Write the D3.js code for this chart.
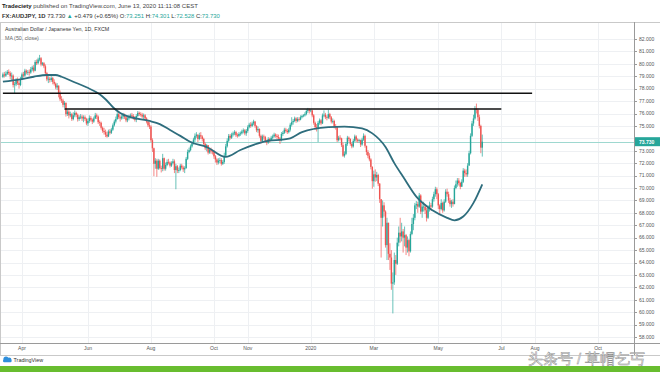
<!DOCTYPE html>
<html>
<head>
<meta charset="utf-8">
<script src="https://cdn.jsdelivr.net/npm/d3@7"></script>
<style>
  body { margin: 0; background: #fff; }
  svg { display: block; }
  text { font-family: "Liberation Sans", Arial, sans-serif; }
</style>
</head>
<body>
<svg width="660" height="372"></svg>
<script>
// FX:AUDJPY daily, FXCM, 13 Mar 2019 .. 12 Jun 2020 (one value per weekday, one line per month)
var startDate = '2019-03-13';
var firstOpen = 78.95;

var closes = [
  79.15,79.05,79.20,79.35,79.25,79.00,79.05,78.30,78.35,78.70,78.45,78.30,78.75,
  79.15,79.05,79.45,79.30,79.35,79.30,79.55,79.70,79.45,80.15,80.05,80.35,80.45,79.95,80.05,79.80,79.25,78.75,78.80,78.70,78.85,78.55,
  78.40,78.10,78.25,77.65,77.15,77.05,76.70,76.85,75.95,76.15,75.85,75.95,75.55,75.85,76.05,75.90,75.55,75.70,75.75,75.60,75.70,75.55,75.20,
  75.40,75.65,75.50,75.35,75.60,75.85,75.75,75.30,75.25,74.85,74.60,74.50,74.30,74.15,74.55,74.45,74.70,75.05,75.35,75.55,
  75.95,75.70,75.60,75.75,75.90,75.70,75.45,75.60,75.75,75.85,75.80,75.65,75.50,75.80,76.05,75.95,75.90,75.75,75.85,75.60,75.35,75.05,74.95,
  73.85,73.20,71.95,72.20,71.55,72.20,71.60,71.55,72.40,71.55,71.85,72.10,72.05,71.80,72.00,72.15,71.45,71.75,71.40,71.45,71.80,71.65,
  71.50,71.60,72.35,72.90,73.05,73.35,73.60,73.90,74.20,74.30,73.95,74.25,74.15,73.95,73.55,73.20,73.45,72.85,73.10,72.95,72.90,
  72.55,72.30,72.05,72.20,72.25,71.95,72.10,72.60,73.35,73.80,74.20,74.05,74.30,74.40,74.50,74.25,74.20,74.35,74.40,74.55,74.65,74.40,74.60,
  74.90,75.10,75.00,75.20,75.35,75.00,74.65,74.75,74.20,73.80,74.15,74.10,73.80,73.65,73.95,73.85,74.05,74.15,74.30,74.20,74.10,
  74.00,73.85,74.35,74.45,74.70,74.60,74.50,74.70,75.10,75.30,75.40,75.60,75.40,75.55,75.50,75.70,75.80,75.85,75.95,76.20,76.30,76.20,
  76.25,75.85,75.25,74.90,74.75,75.25,75.45,75.20,75.85,75.90,75.70,75.65,75.95,75.70,75.35,75.40,74.95,74.90,73.85,74.05,74.00,73.45,72.60,
  72.75,73.55,74.05,73.95,73.55,73.35,73.80,74.15,73.90,73.80,73.85,73.50,73.90,74.20,73.40,72.90,72.60,72.30,71.70,70.55,
  71.10,70.85,71.05,70.35,69.10,67.60,68.60,68.10,65.40,67.20,64.70,64.40,62.30,62.40,64.20,63.90,65.60,66.40,66.10,66.50,66.00,66.20,
  65.20,65.80,64.90,66.30,67.10,67.60,68.60,68.70,68.50,69.40,68.10,68.50,68.50,68.20,67.60,68.40,68.60,68.50,69.10,69.50,69.90,69.50,
  68.60,68.30,68.80,68.20,68.90,69.70,69.50,69.00,68.70,68.90,68.70,70.00,70.30,70.60,70.40,70.10,70.50,71.40,71.20,71.10,71.80,
  72.80,74.20,75.20,75.60,76.40,76.30,75.70,75.00,73.25,73.73
];
var highs = [
  79.30,79.35,79.40,79.50,79.55,79.40,79.30,79.15,78.55,78.85,78.90,78.60,78.95,
  79.30,79.35,79.60,79.55,79.50,79.55,79.75,79.85,79.90,80.30,80.35,80.50,80.72,80.55,80.15,80.15,79.95,79.35,79.00,78.95,79.00,78.95,
  78.75,78.50,78.45,78.10,77.85,77.40,77.20,77.00,76.90,76.30,76.30,76.15,76.05,76.10,76.25,76.15,76.00,75.85,75.95,75.90,75.85,75.85,75.65,
  75.60,75.85,75.80,75.60,75.75,76.05,76.00,75.85,75.45,75.35,74.95,74.85,74.70,74.55,74.70,74.75,74.85,75.20,75.50,75.75,
  76.10,76.05,75.85,75.90,76.05,76.00,75.85,75.80,75.90,76.00,76.05,75.95,75.80,75.95,76.20,76.15,76.10,76.05,76.00,75.95,75.70,75.45,75.30,
  75.05,74.00,73.25,72.40,72.35,72.35,72.30,71.80,72.75,72.45,72.05,72.30,72.35,72.15,72.15,72.35,72.30,71.95,71.85,71.65,71.95,71.95,
  71.80,71.75,72.50,73.10,73.25,73.50,73.75,74.05,74.40,74.50,74.30,74.45,74.50,74.25,74.05,73.65,73.55,73.45,73.25,73.25,73.10,
  73.05,72.65,72.40,72.40,72.45,72.40,72.25,72.85,73.55,74.00,74.35,74.35,74.45,74.55,74.65,74.60,74.40,74.50,74.55,74.70,74.80,74.75,74.75,
  75.05,75.25,75.30,75.35,75.50,75.40,75.05,74.95,74.80,74.30,74.30,74.30,74.20,73.90,74.10,74.05,74.20,74.30,74.45,74.40,74.35,
  74.30,74.10,74.50,74.60,74.85,74.85,74.75,74.85,75.25,75.70,75.55,75.75,75.70,75.70,75.70,75.85,75.90,75.95,76.10,76.35,76.45,76.40,
  76.35,76.30,75.95,75.35,75.15,75.40,75.60,75.55,76.00,76.25,76.05,75.85,76.30,76.05,75.80,75.60,75.50,75.15,74.45,74.20,74.25,74.05,73.65,
  72.95,73.70,74.20,74.15,74.00,73.65,73.95,74.30,74.25,74.00,73.95,73.90,74.05,74.40,74.30,73.35,73.05,72.80,72.40,71.75,
  71.40,71.50,71.30,71.15,70.40,69.10,69.00,68.85,68.20,67.60,66.70,65.55,65.00,63.20,64.80,64.60,66.00,66.90,67.60,67.20,66.70,66.90,
  66.30,66.10,65.90,66.50,67.60,67.90,68.80,68.95,68.90,69.60,69.50,68.70,68.90,68.70,68.40,68.60,68.90,68.80,69.30,69.70,70.10,70.05,
  69.60,68.70,69.10,68.90,69.10,69.90,69.95,69.70,69.20,69.05,69.10,70.20,70.60,70.80,70.80,70.50,70.70,71.60,71.55,71.50,72.00,
  73.00,74.40,75.40,75.90,76.60,76.80,76.40,75.90,75.10,74.30
];
var lows = [
  78.85,78.90,78.95,79.10,79.10,78.75,78.70,78.10,77.65,78.20,78.30,78.00,78.20,
  78.70,78.90,78.95,79.15,79.10,79.05,79.20,79.40,79.30,79.40,79.90,79.95,80.20,79.80,79.85,79.65,79.10,78.60,78.45,78.50,78.55,78.35,
  78.25,77.95,77.90,77.30,77.00,76.85,76.50,76.45,75.75,75.80,75.60,75.70,75.40,75.45,75.70,75.70,75.35,75.40,75.55,75.40,75.30,75.40,75.05,
  75.00,75.25,75.35,75.15,75.25,75.55,75.55,75.15,75.00,74.70,74.45,74.30,74.10,74.05,74.10,74.30,74.35,74.60,74.95,75.20,
  75.50,75.55,75.35,75.50,75.55,75.55,75.30,75.30,75.45,75.60,75.60,75.50,75.35,75.30,75.70,75.80,75.75,75.60,75.55,75.45,75.20,74.90,74.75,
  73.70,72.90,70.95,71.55,70.90,71.45,71.50,71.25,71.35,71.40,71.40,71.75,71.90,71.65,71.70,71.90,71.20,69.90,71.20,71.20,71.35,71.50,
  71.30,71.20,71.55,72.25,72.80,72.95,73.25,73.50,73.70,74.05,73.70,73.85,73.95,73.75,73.40,73.05,72.95,72.70,72.75,72.75,72.70,
  72.35,72.05,71.85,71.90,72.00,71.80,71.85,71.95,72.55,73.25,73.70,73.90,73.95,74.15,74.25,74.10,74.05,74.10,74.20,74.30,74.40,74.25,74.20,
  74.45,74.80,74.85,74.90,75.05,74.85,74.50,74.45,74.05,73.60,73.70,73.90,73.65,73.45,73.55,73.65,73.80,73.90,74.05,74.05,73.95,
  73.85,73.55,73.75,74.20,74.35,74.45,74.35,74.40,74.55,74.95,75.10,75.30,75.25,75.30,75.35,75.45,75.60,75.70,75.75,75.85,76.05,76.00,
  76.10,75.70,75.10,74.70,74.55,73.70,75.10,75.05,75.15,75.70,75.55,75.45,75.55,75.55,75.20,75.20,74.80,74.70,73.70,73.75,73.85,73.30,72.50,
  72.45,72.65,73.40,73.75,73.40,73.20,73.25,73.70,73.70,73.65,73.65,73.30,73.40,73.80,73.25,72.65,72.40,72.15,71.50,69.95,
  70.10,70.50,70.55,70.15,68.80,64.40,66.90,67.70,65.20,64.20,64.20,63.40,61.80,59.90,62.20,63.00,63.80,65.30,65.60,65.70,64.80,65.30,
  64.60,64.80,64.50,64.80,66.20,66.60,67.40,68.30,68.00,68.40,67.90,67.60,68.10,67.90,67.30,67.50,68.10,68.20,68.40,68.90,69.30,69.10,
  68.30,67.90,68.20,68.00,68.10,68.80,69.30,68.80,68.50,68.40,68.50,68.70,69.90,70.10,70.20,69.90,70.10,70.40,70.90,70.90,70.90,
  71.80,72.70,74.10,75.00,75.50,76.00,75.40,74.80,72.80,72.53
];

// MA(50, close): [bar index, value]
var maPoints = [
  [0,78.56],[12,78.75],[21,78.96],[30,79.10],[36,79.10],[40,78.96],[48,78.56],[57,78.11],
  [66,77.55],[70,77.15],[76,76.40],[80,76.04],[87,75.70],[100,75.40],[107,75.15],[114,74.67],
  [121,74.20],[128,73.70],[139,73.30],[152,72.50],[162,73.06],[177,73.70],[196,74.00],[204,74.50],
  [222,74.90],[233,74.95],[245,74.80],[252,74.40],[261,73.30],[267,72.00],[273,70.90],[282,69.30],
  [293,68.20],[303,67.60],[308,67.40],[314,67.70],[321,68.80],[327,70.30]
];

// drawn horizontal levels: price, first and last bar
var levelPrices = [77.63, 76.36];
var levelFrom = [0, 42];
var levelTo = [361, 340];

var priceTicks = d3.range(58, 83);
var monthLabels = ['Apr', 'Jun', 'Aug', 'Oct', 'Nov', '2020', 'Mar', 'May', 'Jul', 'Aug', 'Oct'];
var monthDates = ['2019-04-01', '2019-06-03', '2019-08-01', '2019-10-01', '2019-11-01', '2020-01-01',
                  '2020-03-02', '2020-05-01', '2020-07-01', '2020-08-03', '2020-10-01'];
var lastPrice = 73.730;

var upColor = '#26a69a', downColor = '#ef5350';

// weekdays between startDate and s
function barIndex(s) {
  var d = new Date(startDate + 'T00:00:00Z'), end = new Date(s + 'T00:00:00Z'), n = 0;
  while (d < end) {
    var w = d.getUTCDay();
    if (w > 0 && w < 6) n++;
    d.setUTCDate(d.getUTCDate() + 1);
  }
  return n;
}

var bars = closes.map(function(c, i) {
  var o = i ? closes[i - 1] : firstOpen;
  return { i: i, o: o, c: c,
           h: Math.max(highs[i], o, c),
           l: Math.min(lows[i], o, c) };
});

var svg = d3.select('svg'),
    paneR = 634, paneT = 22, paneB = 343, axisB = 355;

var x = d3.scaleLinear().domain([0, 400]).range([2.9, 2.9 + 400 * 1.466]),
    y = d3.scaleLinear().domain([58, 82]).range([337, 39]);

svg.append('clipPath').attr('id', 'pane')
  .append('rect').attr('x', 0).attr('y', paneT).attr('width', paneR).attr('height', paneB - paneT);

// grid
var grid = svg.append('g');
grid.selectAll('.hg').data(priceTicks).enter().append('line')
  .attr('x1', 0).attr('x2', paneR)
  .attr('y1', function(d) { return Math.round(y(d)) + 0.5; })
  .attr('y2', function(d) { return Math.round(y(d)) + 0.5; })
  .attr('stroke', '#eef0f3');
grid.selectAll('.vg').data(monthDates).enter().append('line')
  .attr('x1', function(d) { return Math.round(x(barIndex(d))) + 0.5; })
  .attr('x2', function(d) { return Math.round(x(barIndex(d))) + 0.5; })
  .attr('y1', paneT).attr('y2', paneB)
  .attr('stroke', '#eef0f3');

var pane = svg.append('g').attr('clip-path', 'url(#pane)');

// last price line
pane.append('line')
  .attr('x1', 0).attr('x2', paneR)
  .attr('y1', Math.round(y(lastPrice)) + 0.5).attr('y2', Math.round(y(lastPrice)) + 0.5)
  .attr('stroke', '#9ed8d0').attr('stroke-width', 1);

// candles
var candles = pane.selectAll('.candle').data(bars).enter().append('g')
  .attr('fill', function(d) { return d.c >= d.o ? upColor : downColor; })
  .attr('stroke', function(d) { return d.c >= d.o ? upColor : downColor; });
candles.append('line')
  .attr('x1', function(d) { return x(d.i); })
  .attr('x2', function(d) { return x(d.i); })
  .attr('y1', function(d) { return y(d.h); })
  .attr('y2', function(d) { return y(d.l); })
  .attr('stroke-width', 0.7);
candles.append('rect')
  .attr('stroke', 'none')
  .attr('x', function(d) { return x(d.i) - 0.7; })
  .attr('width', 1.4)
  .attr('y', function(d) { return y(Math.max(d.o, d.c)); })
  .attr('height', function(d) { return Math.max(0.8, Math.abs(y(d.o) - y(d.c))); });

// moving average
pane.append('path')
  .datum(maPoints)
  .attr('fill', 'none')
  .attr('stroke', '#2e6d7d')
  .attr('stroke-width', 1.8)
  .attr('d', d3.line()
    .x(function(d) { return x(d[0]); })
    .y(function(d) { return y(d[1]); })
    .curve(d3.curveMonotoneX));

// horizontal levels
pane.selectAll('.level').data(levelPrices).enter().append('line')
  .attr('x1', function(d, i) { return x(levelFrom[i]); })
  .attr('x2', function(d, i) { return x(levelTo[i]); })
  .attr('y1', function(d) { return y(d); })
  .attr('y2', function(d) { return y(d); })
  .attr('stroke', '#111').attr('stroke-width', 1.6);

// frame + axes
svg.append('line').attr('x1', 0).attr('x2', 660).attr('y1', paneT + 0.5).attr('y2', paneT + 0.5).attr('stroke', '#c9c9c9');
svg.append('line').attr('x1', 0.5).attr('x2', 0.5).attr('y1', paneT).attr('y2', axisB).attr('stroke', '#c9c9c9');
svg.append('line').attr('x1', 0).attr('x2', 660).attr('y1', axisB + 0.5).attr('y2', axisB + 0.5).attr('stroke', '#c9c9c9');
svg.append('line').attr('x1', 0).attr('x2', 660).attr('y1', paneB + 0.5).attr('y2', paneB + 0.5).attr('stroke', '#9a9a9a');
svg.append('line').attr('x1', paneR + 0.5).attr('x2', paneR + 0.5).attr('y1', paneT).attr('y2', axisB).attr('stroke', '#9a9a9a');

// price labels hidden under the last-price box are skipped, as on the platform
var shownTicks = priceTicks.filter(function(d) { return Math.abs(y(d) - y(lastPrice)) > 8; });

var yAxis = svg.append('g');
yAxis.selectAll('.tk').data(priceTicks).enter().append('line')
  .attr('x1', paneR).attr('x2', paneR + 3)
  .attr('y1', function(d) { return Math.round(y(d)) + 0.5; })
  .attr('y2', function(d) { return Math.round(y(d)) + 0.5; })
  .attr('stroke', '#9a9a9a');
yAxis.selectAll('.lb').data(shownTicks).enter().append('text')
  .attr('x', paneR + 5)
  .attr('y', function(d) { return y(d) + 1.8; })
  .attr('font-size', 5)
  .attr('fill', '#555')
  .text(function(d) { return d3.format('.3f')(d); });

yAxis.append('rect')
  .attr('x', paneR + 1).attr('y', y(lastPrice) - 4.5)
  .attr('width', 25).attr('height', 9)
  .attr('fill', upColor);
yAxis.append('text')
  .attr('x', paneR + 5).attr('y', y(lastPrice) + 1.9)
  .attr('font-size', 5).attr('font-weight', 'bold').attr('fill', '#fff')
  .text(d3.format('.3f')(lastPrice));

svg.append('g').selectAll('text').data(monthLabels).enter().append('text')
  .attr('x', function(d, i) { return x(barIndex(monthDates[i])); })
  .attr('y', paneB + 7)
  .attr('text-anchor', 'middle')
  .attr('font-size', 5)
  .attr('fill', '#555')
  .text(function(d) { return d; });

// header
var h1 = svg.append('text').attr('x', 2).attr('y', 8).attr('font-size', 6).attr('fill', '#444');
h1.append('tspan').attr('font-weight', 'bold').attr('fill', '#222').text('Tradeciety');
h1.append('tspan').text(' published on TradingView.com, June 13, 2020 11:11:08 CEST');

var h2 = svg.append('text').attr('x', 2).attr('y', 18).attr('font-size', 5.9).attr('fill', '#333');
h2.append('tspan').attr('font-weight', 'bold').text('FX:AUDJPY, 1D');
h2.append('tspan').text(' 73.730 ');
h2.append('tspan').attr('fill', upColor).text('▲');
h2.append('tspan').text(' +0.479 (+0.65%) O:');
h2.append('tspan').attr('fill', upColor).text('73.251');
h2.append('tspan').text(' H:');
h2.append('tspan').attr('fill', upColor).text('74.301');
h2.append('tspan').text(' L:');
h2.append('tspan').attr('fill', upColor).text('72.528');
h2.append('tspan').text(' C:');
h2.append('tspan').attr('fill', upColor).text('73.730');

svg.append('text').attr('x', 5).attr('y', 31).attr('font-size', 5.3).attr('fill', '#333')
  .text('Australian Dollar / Japanese Yen, 1D, FXCM');
svg.append('text').attr('x', 5).attr('y', 39.5).attr('font-size', 5.3).attr('fill', '#666')
  .text('MA (50, close)');

// footer
var logo = svg.append('g').attr('fill', '#2f8fdc');
logo.append('circle').attr('cx', 6).attr('cy', 359).attr('r', 2.6);
logo.append('circle').attr('cx', 9.2).attr('cy', 359.8).attr('r', 2.2);
logo.append('rect').attr('x', 3).attr('y', 359.5).attr('width', 8.6).attr('height', 2.8).attr('rx', 1.2);
svg.append('text').attr('x', 13.5).attr('y', 362).attr('font-size', 5.4).attr('fill', '#333').text('TradingView');

svg.append('rect').attr('x', 0).attr('y', 366).attr('width', 660).attr('height', 6).attr('fill', '#68bd2f');

svg.append('text').attr('x', 528).attr('y', 364)
  .attr('font-family', '"Noto Sans CJK SC", sans-serif')
  .attr('font-size', 14.5)
  .attr('fill', '#fff').attr('stroke', '#8c8c8c').attr('stroke-width', 0.5)
  .text('头条号 / 草帽乞丐');
</script>
</body>
</html>
